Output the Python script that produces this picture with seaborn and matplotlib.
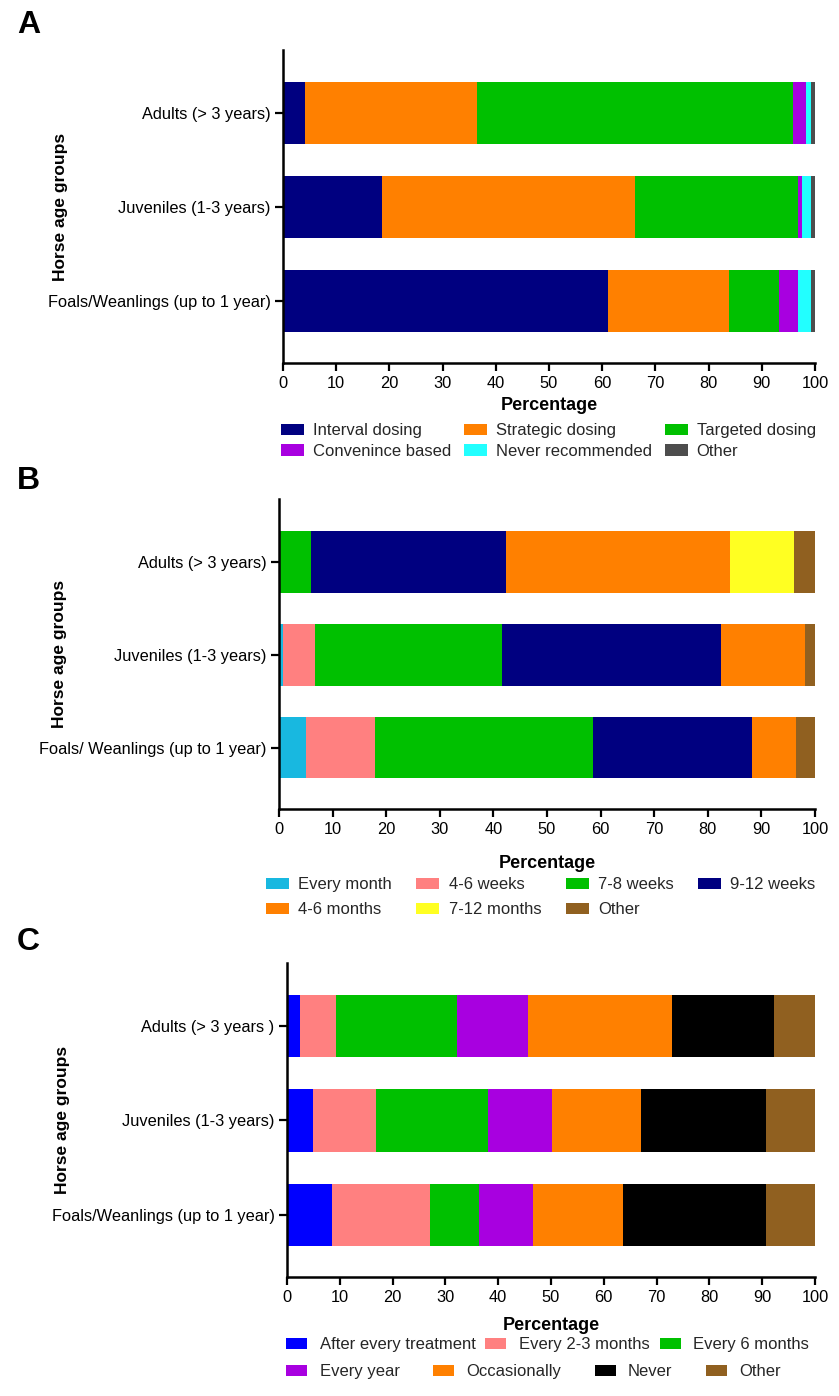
import matplotlib
matplotlib.use("Agg")
import matplotlib.pyplot as plt
from matplotlib.patches import Patch
import seaborn as sns
import pandas as pd
import numpy as np

# ---------------- data ----------------
groups_a = ["Adults (> 3 years)", "Juveniles (1-3 years)", "Foals/Weanlings (up to 1 year)"]
series_a = ["Interval dosing", "Strategic dosing", "Targeted dosing",
            "Convenince based", "Never recommended", "Other"]
interval_dosing = [4.2, 18.6, 61.1]
strategic_dosing = [32.2, 47.5, 22.8]
targeted_dosing = [59.5, 30.7, 9.4]
convenience_based = [2.5, 0.8, 3.5]
never_recommended = [0.8, 1.6, 2.4]
other_a = [0.8, 0.8, 0.8]
colors_a = ["#000080", "#FF8000", "#00C000", "#A800E0", "#22FFFF", "#4D4D4D"]

groups_b = ["Adults (> 3 years)", "Juveniles (1-3 years)", "Foals/ Weanlings (up to 1 year)"]
series_b = ["Every month", "4-6 weeks", "7-8 weeks", "9-12 weeks",
            "4-6 months", "7-12 months", "Other"]
every_month = [0.0, 0.8, 5.1]
weeks_4_6 = [0.0, 6.0, 12.8]
weeks_7_8 = [6.0, 34.8, 40.6]
weeks_9_12 = [36.4, 40.9, 29.8]
months_4_6 = [41.8, 15.7, 8.2]
months_7_12 = [11.8, 0.0, 0.0]
other_b = [4.0, 1.8, 3.5]
colors_b = ["#18B8E0", "#FF8080", "#00C000", "#000080", "#FF8000", "#FFFF22", "#906020"]

groups_c = ["Adults (> 3 years )", "Juveniles (1-3 years)", "Foals/Weanlings (up to 1 year)"]
series_c = ["After every treatment", "Every 2-3 months", "Every 6 months",
            "Every year", "Occasionally", "Never", "Other"]
after_every_treatment = [2.5, 5.0, 8.5]
every_2_3_months = [6.8, 11.9, 18.5]
every_6_months = [22.9, 21.2, 9.4]
every_year = [13.5, 12.0, 10.2]
occasionally = [27.2, 16.9, 17.0]
never = [19.4, 23.7, 27.1]
other_c = [7.7, 9.3, 9.3]
colors_c = ["#0000FF", "#FF8080", "#00C000", "#A800E0", "#FF8000", "#000000", "#906020"]

values_a = [interval_dosing, strategic_dosing, targeted_dosing,
            convenience_based, never_recommended, other_a]
values_b = [every_month, weeks_4_6, weeks_7_8, weeks_9_12, months_4_6, months_7_12, other_b]
values_c = [after_every_treatment, every_2_3_months, every_6_months,
            every_year, occasionally, never, other_c]

# ---------------- style ----------------
sns.set_theme(style="ticks")
plt.rcParams["font.family"] = ["Liberation Sans", "DejaVu Sans"]

W, H = 839, 1396
fig = plt.figure(figsize=(W / 100, H / 100), dpi=100)


def stacked(ax, groups, series, values, colors, ylim, ylab_x, xlab_y):
    rows = []
    for gi, g in enumerate(groups):
        cum = 0.0
        for si, s in enumerate(series):
            cum += values[si][gi]
            rows.append({"group": g, "series": s, "end": cum})
    df = pd.DataFrame(rows)
    for si in range(len(series) - 1, -1, -1):
        sub = df[df["series"] == series[si]]
        sns.barplot(data=sub, x="end", y="group", order=groups, orient="h",
                    color=colors[si], saturation=1, width=0.66, linewidth=0,
                    errorbar=None, ax=ax)
    ax.set_xlim(0, 100)
    ax.set_ylim(*ylim)
    ax.set_xticks(np.arange(0, 101, 10))
    sns.despine(ax=ax)
    for sp in ["left", "bottom"]:
        ax.spines[sp].set_linewidth(1.8)
        ax.spines[sp].set_color("black")
    ax.tick_params(axis="both", direction="out", length=6, width=1.6,
                   labelsize=11.8, colors="black", pad=3)
    ax.set_xlabel("Percentage", fontsize=13, fontweight="bold", color="black")
    ax.set_ylabel("Horse age groups", fontsize=12.5, fontweight="bold", color="black")
    ax.xaxis.set_label_coords(0.5, xlab_y)
    ax.yaxis.label.set_va("center")
    ax.yaxis.set_label_coords(ylab_x, 0.5)
    ax.set_facecolor("white")


def axrect(left, right, top, bottom):
    return [left / W, 1 - bottom / H, (right - left) / W, (bottom - top) / H]


axA = fig.add_axes(axrect(283, 815, 50, 363))
stacked(axA, groups_a, series_a, values_a, colors_a, (2.66, -0.67), -0.419, -0.108)
axB = fig.add_axes(axrect(279, 815, 499, 809))
stacked(axB, groups_b, series_b, values_b, colors_b, (2.66, -0.68), -0.409, -0.147)
axC = fig.add_axes(axrect(287, 815, 963, 1277))
stacked(axC, groups_c, series_c, values_c, colors_c, (2.66, -0.67), -0.426, -0.128)

# ---------------- legends ----------------
def handles(series, colors, order):
    return [Patch(facecolor=colors[i], edgecolor="none", label=series[i]) for i in order]

leg_kw = dict(frameon=False, fontsize=12, handleheight=0.65,
              borderpad=0, borderaxespad=0, loc="upper left")

fig.legend(handles=handles(series_a, colors_a, [0, 3, 1, 4, 2, 5]), ncol=3,
           bbox_to_anchor=(281 / W, 1 - 423 / H), columnspacing=0.75,
           handlelength=1.38, handletextpad=0.55, labelspacing=0.35, **leg_kw)
fig.legend(handles=handles(series_b, colors_b, [0, 4, 1, 5, 2, 6, 3]), ncol=4,
           bbox_to_anchor=(266 / W, 1 - 877 / H), columnspacing=1.47,
           handlelength=1.38, handletextpad=0.55, labelspacing=0.62, **leg_kw)
fig.legend(handles=handles(series_c, colors_c, [0, 1, 2]), ncol=3,
           bbox_to_anchor=(286 / W, 1 - 1337 / H), columnspacing=0.6,
           handlelength=1.26, handletextpad=0.75, **leg_kw)
fig.legend(handles=handles(series_c, colors_c, [3, 4, 5, 6]), ncol=4,
           bbox_to_anchor=(286 / W, 1 - 1364 / H), columnspacing=2.0,
           handlelength=1.26, handletextpad=0.75, **leg_kw)

# ---------------- panel letters ----------------
for letter, yc in [("A", 25), ("B", 481), ("C", 942)]:
    fig.text(17 / W, 1 - yc / H, letter, fontsize=23, fontweight="bold",
             ha="left", va="center", color="black")

fig.savefig("out.png", dpi=100, facecolor="white")
